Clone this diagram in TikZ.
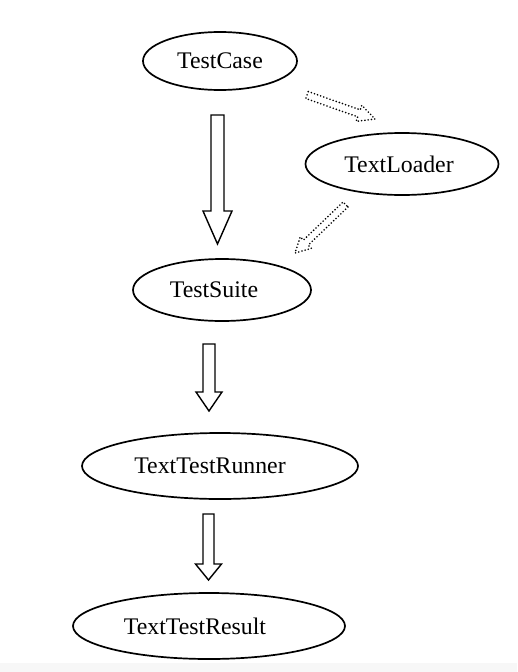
\documentclass[tikz,border=0pt]{standalone}
\usepackage{fontspec}
\setmainfont{Liberation Serif}
\usetikzlibrary{shapes.geometric,calc}

% hollow block arrow: [style]{tail}{tip}{shaft half width}{head half width}{head length}
\newcommand{\hollowarrow}[6][]{%
  \coordinate (#3-base) at ($(#3)!#6!(#2)$);
  \draw[#1] ($(#2)!#4!90:(#3)$) -- ($(#3-base)!#4!90:(#3)$)
    -- ($(#3-base)!#5!90:(#3)$) -- (#3) -- ($(#3-base)!#5!-90:(#3)$)
    -- ($(#3-base)!#4!-90:(#3)$) -- ($(#2)!#4!-90:(#3)$) -- cycle;}

\begin{document}
\begin{tikzpicture}[
  x=1pt, y=-1pt,
  font=\fontsize{23.8}{28}\selectfont,
  unit/.style={ellipse, draw, line width=1.7pt, inner sep=0pt},
  solidarrow/.style={line width=1.4pt, line join=miter},
  dotarrow/.style={line width=1.8pt, line cap=round, line join=round,
                   dash pattern=on 0pt off 3.3pt},
]
\useasboundingbox (0,0) rectangle (517,672);
\fill[black!3] (0,663) rectangle (517,672);

% ==================== classes ====================
\node[unit, minimum width=154pt, minimum height=58pt] (case)   at (220,61)  {TestCase};
\node[unit, minimum width=193pt, minimum height=62pt] (loader) at (402,164) {TextLoader\hspace*{6pt}};
\node[unit, minimum width=178pt, minimum height=62pt] (suite)  at (222,290) {TestSuite\hspace*{16pt}};
\node[unit, minimum width=276pt, minimum height=66pt] (runner) at (220,466) {TextTestRunner\hspace*{20pt}};
\node[unit, minimum width=272pt, minimum height=66pt] (result) at (209,626) {TextTestResult\hspace*{28pt}};

% ==================== arrow ends ====================
\coordinate (c2s-tail) at (217.5,115);
\coordinate (c2s-tip)  at (217.5,244);
\coordinate (s2r-tail) at (209,344);
\coordinate (s2r-tip)  at (209,411);
\coordinate (r2t-tail) at (208.5,514);
\coordinate (r2t-tip)  at (208.5,580);
\coordinate (c2l-tail) at (307,95);
\coordinate (c2l-tip)  at (375,119);
\coordinate (l2s-tail) at (345.5,204.5);
\coordinate (l2s-tip)  at (295,253);

% ==================== solid block arrows ====================
\hollowarrow[solidarrow]{c2s-tail}{c2s-tip}{6.5pt}{14.5pt}{33pt}
\hollowarrow[solidarrow]{s2r-tail}{s2r-tip}{6pt}{13pt}{19pt}
\hollowarrow[solidarrow]{r2t-tail}{r2t-tip}{5.5pt}{13pt}{16pt}

% ==================== dotted block arrows ====================
\hollowarrow[dotarrow]{c2l-tail}{c2l-tip}{3.7pt}{8.5pt}{17pt}
\hollowarrow[dotarrow]{l2s-tail}{l2s-tip}{3.5pt}{8pt}{15pt}

\end{tikzpicture}
\end{document}
